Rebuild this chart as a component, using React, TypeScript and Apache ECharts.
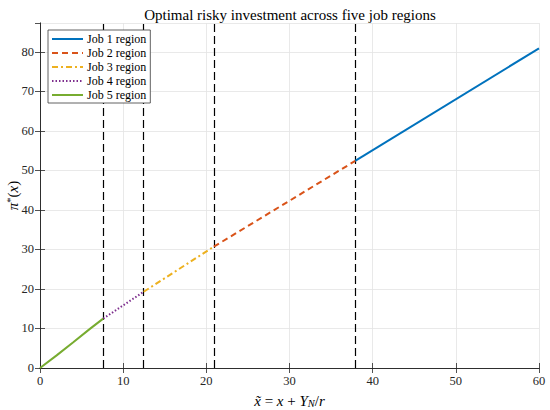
import React, { useEffect, useRef } from "react";
import * as echarts from "echarts";

const job5X = [0, 2, 4, 6, 7.6];
const job5Y = [0, 3.2, 6.5, 9.9, 12.5];
const job4X = [7.6, 12.47];
const job4Y = [12.5, 19.3];
const job3X = [12.47, 20.9];
const job3Y = [19.3, 30.7];
const job2X = [20.9, 37.9];
const job2Y = [30.7, 52.4];
const job1X = [37.9, 60];
const job1Y = [52.4, 80.9];
const boundaries = [7.6, 12.47, 20.9, 37.9];
const seriesNames = ["Job 1 region", "Job 2 region", "Job 3 region", "Job 4 region", "Job 5 region"];
const X_MIN = 0;
const X_MAX = 60;
const Y_MIN = 0;
const Y_MAX = 87.3;

const FONT = "Liberation Serif";
const AX = "#262626";

function pairs(xs: number[], ys: number[]) {
  return xs.map((x, i) => [x, ys[i]]);
}

export default function App() {
  const ref = useRef<HTMLDivElement>(null);
  useEffect(() => {
    document.body.style.margin = "0";
    const chart = echarts.init(ref.current!, null, { renderer: "svg" });
    const tickLabel = {
      fontFamily: FONT,
      fontSize: 12.5,
      color: AX,
    };
    const mkLine = (name: string, data: number[][], color: string, type: any, width = 2) => ({
      name,
      type: "line",
      data,
      showSymbol: false,
      symbol: "none",
      lineStyle: { color, type, width },
      itemStyle: { color },
      z: 3,
    });
    chart.setOption({
      animation: false,
      backgroundColor: "#fff",
      title: {
        text: "Optimal risky investment across five job regions",
        left: 285,
        textAlign: "center",
        top: 2,
        textStyle: { fontFamily: FONT, fontSize: 15, fontWeight: "normal", color: "#000" },
      },
      grid: { left: 40, right: 11, top: 23, bottom: 42, outerBoundsMode: "none", containLabel: false },
      legend: {
        data: seriesNames,
        orient: "vertical",
        left: 48,
        top: 30,
        z: 20,
        itemWidth: 31,
        itemHeight: 12,
        itemGap: 2,
        padding: [3, 4, 2, 3],
        backgroundColor: "#fff",
        borderColor: "#3a3a3a",
        borderWidth: 0.8,
        borderRadius: 0,
        itemStyle: { color: "transparent", borderColor: "transparent", borderWidth: 0, opacity: 0 },
        textStyle: { fontFamily: FONT, fontSize: 12, color: "#000", padding: [0, 0, 0, -1] },
      },
      xAxis: [
        {
          type: "value",
          min: X_MIN,
          max: X_MAX,
          interval: 10,
          name: "{i|x̃} = {i|x} + {i|Y}{sub|N}/{i|r}",
          nameLocation: "middle",
          nameGap: 24,
          nameMoveOverlap: false,
          nameTextStyle: {
            fontFamily: FONT,
            fontSize: 15,
            color: "#000",
            rich: {
              i: { fontFamily: FONT, fontStyle: "italic", fontSize: 15 },
              sub: { fontFamily: FONT, fontStyle: "italic", fontSize: 10.5, verticalAlign: "bottom", padding: [6, 0, 0, 0] },
            },
          },
          axisLine: { show: true, lineStyle: { color: AX, width: 0.8 } },
          axisTick: { show: true, inside: true, length: 5, lineStyle: { color: AX, width: 0.8 } },
          axisLabel: { ...tickLabel, margin: 6 },
          splitLine: { show: true, lineStyle: { color: "#e3e3e3", width: 0.8 } },
        },
        {
          type: "value",
          position: "top",
          min: X_MIN,
          max: X_MAX,
          interval: 10,
          axisLine: { show: true, lineStyle: { color: AX, width: 0.8 } },
          axisTick: { show: true, inside: true, length: 5, lineStyle: { color: AX, width: 0.8 } },
          axisLabel: { show: false },
          splitLine: { show: false },
        },
      ],
      yAxis: [
        {
          type: "value",
          min: Y_MIN,
          max: Y_MAX,
          interval: 10,
          name: "{i|π}{sup|*}({i|x})",
          nameLocation: "middle",
          nameRotate: 90,
          nameGap: 20,
          nameMoveOverlap: false,
          nameTextStyle: {
            fontFamily: FONT,
            fontSize: 15,
            color: "#000",
            rich: {
              i: { fontFamily: FONT, fontStyle: "italic", fontSize: 15 },
              sup: { fontFamily: FONT, fontSize: 10.5, verticalAlign: "top" },
            },
          },
          axisLine: { show: true, lineStyle: { color: AX, width: 0.8 } },
          axisTick: { show: true, inside: true, length: 5, lineStyle: { color: AX, width: 0.8 } },
          axisLabel: {
            ...tickLabel,
            margin: 6,
            showMaxLabel: false,
            formatter: (v: number) => (v % 10 === 0 ? String(v) : ""),
          },
          splitLine: { show: true, lineStyle: { color: "#e3e3e3", width: 0.8 } },
        },
        {
          type: "value",
          position: "right",
          min: Y_MIN,
          max: Y_MAX,
          interval: 10,
          axisLine: { show: true, lineStyle: { color: AX, width: 0.8 } },
          axisTick: { show: true, inside: true, length: 5, lineStyle: { color: AX, width: 0.8 } },
          axisLabel: { show: false },
          splitLine: { show: false },
        },
      ],
      series: [
        {
          name: "boundaries",
          type: "line",
          data: [],
          showSymbol: false,
          markLine: {
            silent: true,
            z: 2,
            symbol: ["none", "none"],
            label: { show: false },
            lineStyle: { color: "#000", type: [8, 4], width: 1.2 },
            data: boundaries.map((b) => ({ xAxis: b })),
          },
          z: 2,
        },
        mkLine(seriesNames[0], pairs(job1X, job1Y), "#0072BD", "solid"),
        mkLine(seriesNames[1], pairs(job2X, job2Y), "#D95319", [6, 4]),
        mkLine(seriesNames[2], pairs(job3X, job3Y), "#EDB120", [6, 3, 2, 3]),
        mkLine(seriesNames[3], pairs(job4X, job4Y), "#7E2F8E", [1.5, 2]),
        mkLine(seriesNames[4], pairs(job5X, job5Y), "#77AC30", "solid"),
      ],
    });
    return () => chart.dispose();
  }, []);
  return <div ref={ref} style={{ position: "fixed", left: 0, top: 0, width: 550, height: 410 }} />;
}
